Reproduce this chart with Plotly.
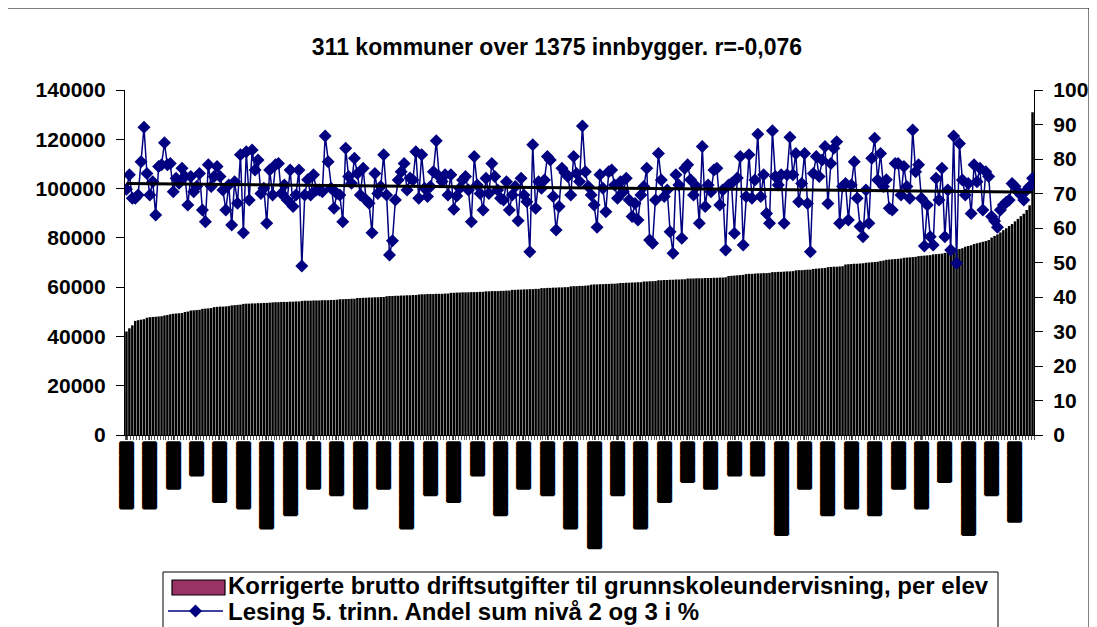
import numpy as np
import plotly.graph_objects as go

# ---------------- data ----------------
title_text = "311 kommuner over 1375 innbygger. r=-0,076"
bar_name = "Korrigerte brutto driftsutgifter til grunnskoleundervisning, per elev"
line_name = "Lesing 5. trinn. Andel sum nivå 2 og 3 i %"

# sorted cost per pupil (311 municipalities)
cost = [
    42000, 43300, 44500, 46300, 46600, 46800, 47000, 47600, 47800, 47900,
    48000, 48100, 48200, 48500, 48700, 49000, 49200, 49300, 49400, 49500,
    49900, 50100, 50500, 50600, 50700, 50800, 51200, 51300, 51400, 51500,
    51900, 52000, 52100, 52100, 52200, 52300, 52600, 52700, 52800, 52900,
    53200, 53300, 53300, 53400, 53400, 53500, 53500, 53600, 53600, 53700,
    53800, 53900, 53900, 54000, 54000, 54000, 54100, 54100, 54200, 54200,
    54400, 54500, 54500, 54500, 54600, 54600, 54600, 54700, 54700, 54700,
    54800, 54800, 54900, 55100, 55100, 55200, 55200, 55300, 55300, 55600,
    55600, 55700, 55700, 55800, 55800, 55900, 55900, 56000, 56000, 56300,
    56400, 56400, 56500, 56500, 56600, 56600, 56700, 56700, 56800, 56800,
    57000, 57100, 57100, 57200, 57200, 57200, 57300, 57300, 57300, 57400,
    57400, 57700, 57700, 57800, 57800, 57900, 57900, 57900, 58000, 58000,
    58000, 58100, 58100, 58300, 58300, 58400, 58400, 58400, 58500, 58500,
    58600, 58600, 58900, 58900, 59000, 59000, 59100, 59100, 59200, 59200,
    59300, 59300, 59600, 59600, 59700, 59700, 59800, 59800, 59900, 59900,
    60000, 60000, 60300, 60400, 60400, 60500, 60500, 60600, 60700, 61000,
    61100, 61100, 61200, 61200, 61300, 61300, 61400, 61400, 61500, 61700,
    61700, 61800, 61800, 61900, 61900, 62000, 62000, 62300, 62300, 62400,
    62400, 62500, 62800, 62800, 62900, 62900, 63000, 63000, 63100, 63100,
    63200, 63200, 63500, 63500, 63500, 63600, 63600, 63600, 63700, 63700,
    63700, 63800, 63800, 63900, 63900, 64000, 64500, 64600, 64700, 64800,
    64900, 65000, 65300, 65400, 65400, 65500, 65600, 65600, 65700, 65700,
    65800, 66100, 66100, 66200, 66200, 66300, 66400, 66400, 66500, 66800,
    66900, 66900, 67000, 67100, 67100, 67400, 67500, 67600, 67700, 67800,
    68100, 68200, 68300, 68300, 68400, 68500, 69200, 69300, 69400, 69500,
    69500, 69600, 69700, 69900, 70000, 70100, 70200, 70300, 70600, 70800,
    71100, 71200, 71300, 71400, 71500, 71600, 71900, 72000, 72100, 72200,
    72300, 72600, 72700, 72800, 72900, 73000, 73300, 73400, 73500, 73600,
    73900, 74100, 74300, 74900, 75200, 75500, 75800, 76400, 76700, 77000,
    77500, 77800, 78100, 78400, 78700, 79100, 80100, 80800, 81400, 82200,
    83100, 83900, 84800, 85600, 86700, 87700, 88800, 89800, 91300, 93200,
    131000,
]

# reading score share (%), same order
reading = [
    71.2, 75.4, 68.6, 68.6, 69.6, 79.2, 89.2, 75.8, 69.6, 73.4,
    63.8, 77.8, 78.3, 84.7, 78.3, 78.7, 70.5, 74.4, 73.0, 77.3,
    74.9, 66.7, 74.9, 70.5, 72.0, 75.8, 65.2, 61.8, 78.3, 72.0,
    74.9, 77.8, 74.9, 71.0, 65.2, 72.5, 60.9, 73.4, 67.2, 81.2,
    58.6, 82.1, 68.1, 82.6, 76.8, 79.7, 70.0, 71.5, 61.4, 76.8,
    69.6,
    78.3, 78.7, 70.0, 72.5, 68.1, 76.8, 66.2, 69.6, 76.8, 49.0,
    69.6, 74.0, 69.6, 75.4, 71.0, 71.0, 70.5, 86.7, 79.2, 71.5,
    65.7, 70.0, 69.6, 61.8, 83.1, 74.9, 73.0, 80.2, 75.8, 69.6,
    77.3, 68.1, 67.2, 58.6, 75.8, 70.0, 72.0, 81.2, 69.6, 52.2,
    56.3, 68.1, 73.9, 76.3, 78.7, 71.0, 74.5, 73.9, 82.1, 68.6,
    81.2, 71.5,
    69.1, 72.0, 76.3, 85.3, 74.9, 73.5, 75.4, 69.6, 75.4, 65.4,
    69.3, 71.5, 73.9, 74.9, 71.0, 61.8, 80.7, 72.5, 70.0, 65.2,
    74.4, 70.0, 78.7, 74.9, 71.0, 68.6, 68.1, 73.4, 65.2, 69.6,
    72.0, 62.1, 74.4, 69.6, 67.6, 53.1, 84.1, 65.7, 73.4, 71.5,
    73.9, 80.7, 79.7, 69.1, 59.4, 66.2, 77.3, 76.0, 74.9, 69.6,
    80.7, 75.8, 73.5, 89.6,
    76.3, 72.0, 69.6, 66.7, 60.2, 75.4, 71.5, 64.7, 76.3, 76.8,
    72.5, 68.6, 73.4, 70.5, 74.4, 68.1, 63.3, 67.1, 62.3, 69.6,
    72.0, 77.3, 56.5, 55.6, 68.1, 81.6, 73.9, 69.1, 71.0, 58.9,
    52.7, 75.4, 72.5, 57.0, 77.3, 78.3, 74.0, 69.6, 72.0, 61.4,
    83.6, 66.2, 72.5, 70.5, 76.8, 77.3, 66.7, 71.0, 53.6, 72.5,
    73.0, 58.5, 74.5, 80.7,
    55.1, 69.1, 81.2, 68.6, 73.9, 87.2, 69.1, 75.4, 64.2, 61.4,
    88.2, 74.9, 72.5, 75.4, 61.4, 75.4, 86.3, 75.4, 81.6, 67.6,
    72.9, 81.6, 67.1, 53.1, 75.8, 80.7, 74.9, 79.7, 83.6, 67.1,
    78.7, 83.1, 85.0, 61.4, 72.0, 72.9, 62.3, 72.5, 79.2, 68.6,
    60.4, 57.5, 71.0, 61.4, 80.2, 86.0, 73.9, 81.6, 72.0, 74.0,
    65.7, 65.2, 78.7,
    78.7, 69.6, 77.8, 72.0, 68.6, 88.4, 76.3, 78.3, 68.6, 54.8,
    66.7, 57.5, 55.1, 74.4, 68.1, 77.3, 57.5, 71.0, 53.6, 86.7,
    49.8, 84.5, 73.9, 69.6, 72.9, 64.2, 78.3, 73.4, 77.3, 65.2,
    76.3, 74.9, 63.3, 62.0, 60.2, 65.2, 66.7, 67.5, 68.1, 72.9,
    72.0, 70.5, 69.6, 68.1, 71.0, 72.0, 74.4,
]

municipality_index = list(range(len(cost)))

# category labels (names rendered as solid blocks in the original), every 8th
B = "\u2588"
label_positions = list(range(0, 311, 8))
label_texts = [B * n for n in [10, 10, 7, 5, 9, 10, 13, 11, 7, 8, 10, 7, 13, 8, 9, 5, 11, 7, 8, 13,
                               16, 8, 13, 9, 6, 7, 5, 5, 14, 7, 11, 10, 11, 7, 10, 6, 14, 8, 12]]

left_ticks = [0, 20000, 40000, 60000, 80000, 100000, 120000, 140000]
left_tick_labels = ["0", "20000", "40000", "60000", "80000", "100000", "120000", "140000"]
right_ticks = [0, 10, 20, 30, 40, 50, 60, 70, 80, 90, 100]

# ---------------- figure ----------------
n = min(len(cost), len(reading))
xs = np.array(municipality_index[:n], dtype=float)
ys = np.array(reading[:n], dtype=float)
slope, intercept = np.polyfit(xs, ys, 1)
trend_x = [xs[0], xs[-1]]
trend_y = [intercept + slope * xs[0], intercept + slope * xs[-1]]

FONT = "Liberation Sans, Arial, sans-serif"
BAR_LEGEND_COLOR = "#993366"

# page body has an 8px margin: figure coords = screen coords - 8
OFF = 8
W, H = 1097 - OFF, 627 - OFF
px0, px1, py0, py1 = 125, 1034, 90, 435   # plot area in screen pixels

def paper_x(p):
    return (p - px0) / (px1 - px0)

def paper_y(p):
    return (py1 - p) / (py1 - py0)

fig = go.Figure()
fig.add_trace(go.Bar(x=municipality_index, y=cost, marker=dict(color="black", line=dict(width=0)),
                     showlegend=False, hoverinfo="skip"))
# legend entry for the bars (its swatch is drawn as a wide rectangle shape below)
fig.add_trace(go.Bar(x=[None], y=[None], name=bar_name, legend="legend",
                     marker=dict(color="rgba(0,0,0,0)", line=dict(width=0))))
fig.add_trace(go.Scatter(x=municipality_index[:n], y=reading[:n], yaxis="y2", name=line_name,
                         legend="legend2", mode="lines+markers",
                         line=dict(color="#000080", width=1.5),
                         marker=dict(symbol="diamond", size=10, color="#000080")))
fig.add_trace(go.Scatter(x=trend_x, y=trend_y, yaxis="y2", mode="lines",
                         line=dict(color="black", width=3), showlegend=False))

legend_style = dict(xanchor="left", yanchor="top", borderwidth=0, bgcolor="rgba(0,0,0,0)",
                    font=dict(family=FONT, size=24, color="black", weight="bold"),
                    itemwidth=55)

fig.update_layout(
    width=W, height=H,
    margin=dict(l=px0 - OFF, r=W - (px1 - OFF), t=py0 - OFF, b=H - (py1 - OFF), autoexpand=False),
    paper_bgcolor="white", plot_bgcolor="white",
    barmode="overlay", bargap=0.15,
    title=dict(text=title_text, x=(557 - OFF) / W, xref="container", xanchor="center",
               y=1 - (47 - OFF) / H, yref="container", yanchor="middle",
               font=dict(family=FONT, size=23, color="black", weight="bold")),
    xaxis=dict(range=[-0.5, 310.5], showgrid=False, zeroline=False,
               showline=True, linecolor="black", linewidth=1,
               tickmode="array", tickvals=label_positions, ticktext=label_texts,
               tickangle=90, ticks="outside", ticklen=4, tickcolor="#333",
               tickfont=dict(family="DejaVu Sans Mono", size=11, color="black",
                             shadow="1px 0px 0px black, -1px 0px 0px black, 0px 1px 0px black, 0px -1px 0px black"),
               minor=dict(ticks="outside", tick0=-0.5, dtick=1, ticklen=4, tickcolor="#555", tickwidth=1),
               automargin=False),
    yaxis=dict(range=[0, 140000], tickmode="array", tickvals=left_ticks, ticktext=left_tick_labels,
               showgrid=False, zeroline=False, showline=True, linecolor="black", linewidth=1.2,
               ticks="outside", ticklen=8, tickcolor="black", ticklabelstandoff=6,
               tickfont=dict(family=FONT, size=21, color="black", weight="bold"), automargin=False),
    yaxis2=dict(range=[0, 100], tickmode="array", tickvals=right_ticks, overlaying="y", side="right",
                showgrid=False, zeroline=False, showline=True, linecolor="black", linewidth=1.2,
                ticks="outside", ticklen=8, tickcolor="black", ticklabelstandoff=6,
                tickfont=dict(family=FONT, size=21, color="black", weight="bold"), automargin=False),
    legend=dict(x=paper_x(163), y=paper_y(563), **legend_style),
    legend2=dict(x=paper_x(163), y=paper_y(589), **legend_style),
    shapes=[
        # outer chart border
        dict(type="rect", xref="paper", yref="paper",
             x0=paper_x(7), x1=paper_x(1089), y0=paper_y(700), y1=paper_y(8),
             line=dict(color="black", width=1), fillcolor="rgba(0,0,0,0)", layer="below"),
        # legend box
        dict(type="rect", xref="paper", yref="paper",
             x0=paper_x(163), x1=paper_x(998), y0=paper_y(700), y1=paper_y(572),
             line=dict(color="black", width=1), fillcolor="white", layer="below"),
        # bar legend swatch
        dict(type="rect", xref="paper", yref="paper",
             x0=paper_x(172), x1=paper_x(225), y0=paper_y(595), y1=paper_y(580),
             line=dict(color="black", width=1.2), fillcolor=BAR_LEGEND_COLOR, layer="above"),
    ],
)

fig.write_html("out.html")
